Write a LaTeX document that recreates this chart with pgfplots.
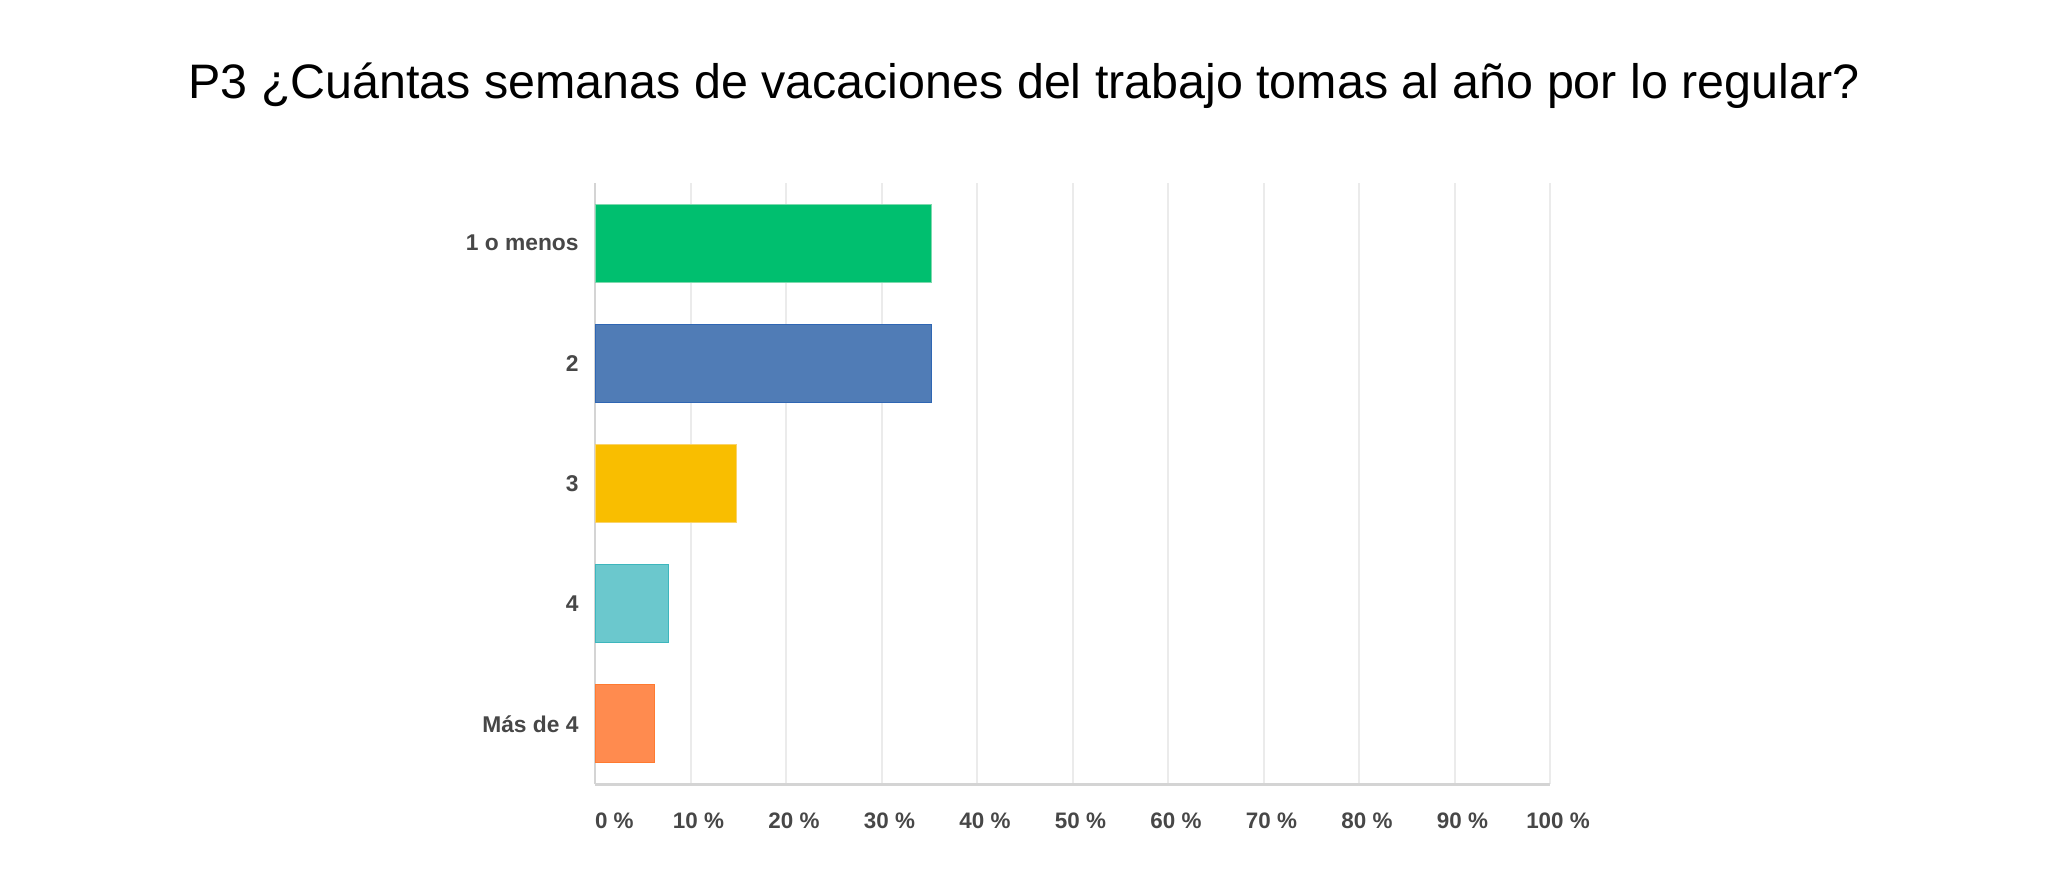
\documentclass[border=0pt]{standalone}
\usepackage{fontspec}
\setmainfont{Liberation Sans}
\usepackage{pgfplots}
\pgfplotsset{compat=1.18}

\definecolor{smgreen}{HTML}{00BF6F}
\definecolor{smgreenb}{HTML}{7ED9AE}
\definecolor{smblue}{HTML}{507CB6}
\definecolor{smblueb}{HTML}{2F66B3}
\definecolor{smyellow}{HTML}{F9BE00}
\definecolor{smyellowb}{HTML}{FAD36A}
\definecolor{smteal}{HTML}{6BC8CD}
\definecolor{smtealb}{HTML}{3DB6BD}
\definecolor{smorange}{HTML}{FF8B4F}
\definecolor{smorangeb}{HTML}{FF7A30}
\definecolor{labelgray}{HTML}{474747}
\definecolor{gridgray}{HTML}{EBEBEB}
\definecolor{axisgray}{HTML}{D4D4D4}

\begin{document}
\begin{tikzpicture}
\useasboundingbox (0,0) rectangle (1024bp,-445bp);

\node[anchor=base, font=\fontsize{24.2bp}{28bp}\selectfont, text=black]
  at (512bp,-49bp) {P3 ¿Cuántas semanas de vacaciones del trabajo tomas al año por lo regular?};

\begin{axis}[
    at={(297.5bp,-392bp)}, anchor=south west,
    scale only axis,
    width=477.5bp, height=300.5bp,
    xbar,
    bar width=0.65,
    bar shift=0pt,
    xmin=0, xmax=100,
    ymin=-0.5, ymax=4.5,
    y dir=reverse,
    axis x line*=bottom,
    axis y line*=left,
    x axis line style={color=axisgray, line width=1.5bp},
    y axis line style={color=axisgray, line width=1bp},
    xtick={0,10,...,100},
    xticklabels={\makebox[0pt][l]{\hspace{-4bp}0 \%}, 10 \%, 20 \%, 30 \%, 40 \%, 50 \%, 60 \%, 70 \%, 80 \%, 90 \%, 100 \%},
    ytick={0,1,2,3,4},
    yticklabels={1 o menos, 2, 3, 4, Más de 4},
    major tick length=0pt,
    xmajorgrids,
    major grid style={color=gridgray, line width=1bp},
    xticklabel style={font=\fontsize{11.2bp}{13bp}\selectfont\bfseries, text=labelgray,
        anchor=base, inner sep=0pt, yshift=-22bp, xshift=4bp},
    yticklabel style={font=\fontsize{11.4bp}{13bp}\selectfont\bfseries, text=labelgray,
        anchor=east, inner sep=0pt, xshift=-8bp},
]
\addplot[fill=smgreen, draw=smgreenb, line width=0.5bp] coordinates {(35.2,0)};
\addplot[fill=smblue, draw=smblueb, line width=0.5bp] coordinates {(35.2,1)};
\addplot[fill=smyellow, draw=smyellowb, line width=0.5bp] coordinates {(14.8,2)};
\addplot[fill=smteal, draw=smtealb, line width=0.5bp] coordinates {(7.7,3)};
\addplot[fill=smorange, draw=smorangeb, line width=0.5bp] coordinates {(6.2,4)};
\end{axis}
\end{tikzpicture}
\end{document}
